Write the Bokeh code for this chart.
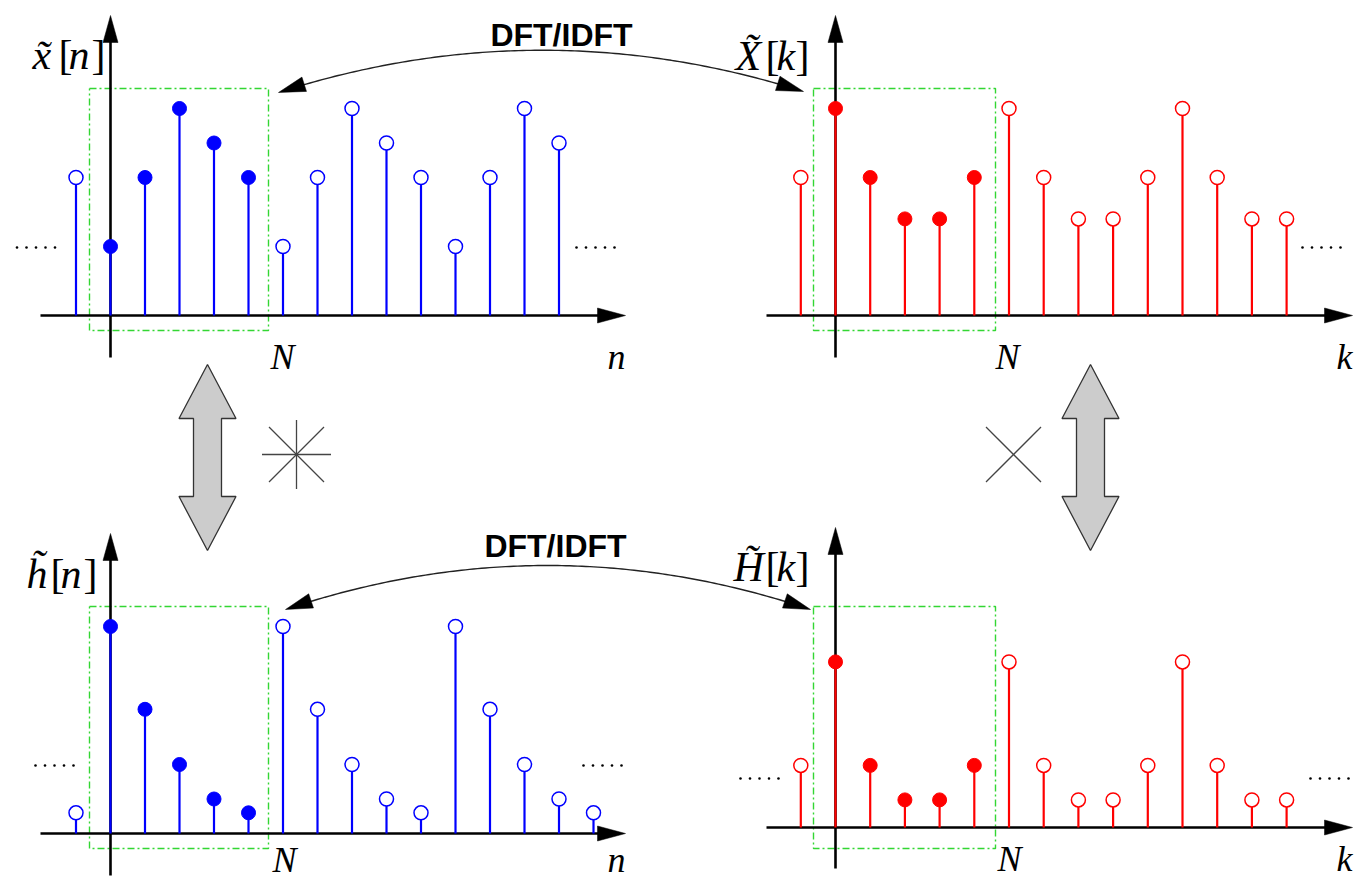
import numpy as np
from bokeh.plotting import figure
from bokeh.models import Range1d
from bokeh.embed import file_html
from bokeh.resources import INLINE
from bokeh.core.properties import value

# ---------------- data: one period (N = 5) of each periodic sequence ----------------
N = 5
x_period = [1.0, 2.0, 3.0, 2.5, 2.0]      # x~[n]
X_period = [3.0, 2.0, 1.4, 1.4, 2.0]      # X~[k]
h_period = [3.0, 1.8, 1.0, 0.5, 0.3]      # h~[n]
H_period = [2.4, 0.9, 0.4, 0.4, 0.9]      # H~[k]
idx_tl = list(range(-1, 14))
idx_tr = list(range(-1, 14))
idx_bl = list(range(-1, 15))
idx_br = list(range(-1, 14))
arrow_text = "DFT/IDFT"

# ---------------- layout (pixel-like data coordinates) ----------------
p = figure(width=1357, height=879, x_range=Range1d(0, 1357), y_range=Range1d(879, 0),
           output_backend="svg", toolbar_location=None, min_border=0,
           x_axis_type=None, y_axis_type=None)
p.grid.visible = False
p.outline_line_color = None
p.background_fill_color = "white"
p.border_fill_color = "white"

SERIF = value("Liberation Serif")
SANS = value("Liberation Sans")

panels = [
    dict(vals=x_period, idx=idx_tl, ox=110, base=315, dx=34.5, color="#0000ff",
         hx=(40, 625), vy=(357, 15), box=(89, 268, 88, 330),
         dots=[(16.5, 247), (576, 247)],
         lab=[("x\u0303", True, 0), ("[", False, 26), ("n", True, 36), ("]", False, 59)], lab_xy=(32, 54),
         N_xy=(270, 356), ax=("n", 607, 356)),
    dict(vals=X_period, idx=idx_tr, ox=835, base=315, dx=34.7, color="#ff0000",
         hx=(766, 1352), vy=(357, 15), box=(813, 995, 88, 330),
         dots=[(1302, 247)],
         lab=[("X\u0303", True, 0), ("[", False, 30), ("k", True, 41), ("]", False, 60)], lab_xy=(735, 55),
         N_xy=(995, 356), ax=("k", 1336, 356)),
    dict(vals=h_period, idx=idx_bl, ox=110, base=833, dx=34.5, color="#0000ff",
         hx=(40, 625), vy=(875, 533), box=(89, 268, 606, 848),
         dots=[(35, 765), (583, 765)],
         lab=[("h\u0303", True, 0), ("[", False, 24), ("n", True, 34), ("]", False, 57)], lab_xy=(26, 573),
         N_xy=(272, 859), ax=("n", 607, 859)),
    dict(vals=H_period, idx=idx_br, ox=835, base=827, dx=34.7, color="#ff0000",
         hx=(766, 1352), vy=(868, 527), box=(813, 995, 606, 848),
         dots=[(740, 778), (1310, 778)],
         lab=[("H\u0303", True, 0), ("[", False, 32), ("k", True, 43), ("]", False, 62)], lab_xy=(733, 566),
         N_xy=(997, 858), ax=("k", 1336, 858)),
]
UNIT = 69.0


def tri(tip, direction, length, half):
    tx, ty = tip
    ux, uy = direction
    L = np.hypot(ux, uy)
    ux, uy = ux / L, uy / L
    bx, by = tx - ux * length, ty - uy * length
    nx, ny = -uy, ux
    return [tx, bx + nx * half, bx - nx * half], [ty, by + ny * half, by - ny * half]


head_xs, head_ys = [], []

# green dash-dot boxes
for P in panels:
    l, r, t, b = P["box"]
    p.line([l, r, r, l, l], [t, t, b, b, t], line_color="#33d633",
           line_width=1.4, line_dash="7 3 2 3")

# axes
for P in panels:
    x0, x1 = P["hx"]
    p.segment(x0=[x0], y0=[P["base"]], x1=[x1 - 26], y1=[P["base"]], line_color="black", line_width=2.6)
    a, b = tri((x1, P["base"]), (1, 0), 28, 7.5)
    head_xs.append(a); head_ys.append(b)
    y0, y1 = P["vy"]
    p.segment(x0=[P["ox"]], y0=[y0], x1=[P["ox"]], y1=[y1 + 25], line_color="black", line_width=2.6)
    a, b = tri((P["ox"], y1), (0, -1), 27, 7.5)
    head_xs.append(a); head_ys.append(b)

# stems and markers
for P in panels:
    idx = P["idx"]
    xs = [P["ox"] + n * P["dx"] for n in idx]
    vals = [P["vals"][n % N] for n in idx]
    ys = [P["base"] - v * UNIT for v in vals]
    p.segment(x0=xs, y0=[P["base"]] * len(xs), x1=xs, y1=ys, line_color=P["color"], line_width=2.2)
    fx = [x for x, n in zip(xs, idx) if 0 <= n < N]
    fy = [y for y, n in zip(ys, idx) if 0 <= n < N]
    ox_ = [x for x, n in zip(xs, idx) if not (0 <= n < N)]
    oy_ = [y for y, n in zip(ys, idx) if not (0 <= n < N)]
    p.scatter(ox_, oy_, size=14, marker="circle", fill_color="white", line_color=P["color"], line_width=1.5)
    p.scatter(fx, fy, size=14, marker="circle", fill_color=P["color"], line_color=P["color"], line_width=1)

# continuation dots
for P in panels:
    for (sx, sy) in P["dots"]:
        p.scatter([sx + i * 9.5 for i in range(5)], [sy] * 5, size=2.6, marker="circle",
                  fill_color="black", line_color=None)

# labels
for P in panels:
    lx, ly = P["lab_xy"]
    for (t, it, off) in P["lab"]:
        p.text(x=[lx + off], y=[ly], text=[t], text_font=SERIF, text_font_size=value("42px"),
               text_font_style="italic" if it else "normal", text_baseline="alphabetic",
               text_align="left", text_color="black")
    nx, ny = P["N_xy"]
    p.text(x=[nx], y=[ny], text=["N"], text_font=SERIF, text_font_size=value("36px"),
           text_font_style="italic", text_baseline="alphabetic", text_align="left", text_color="black")
    t, ax_, ay_ = P["ax"]
    p.text(x=[ax_], y=[ay_], text=[t], text_font=SERIF, text_font_size=value("36px"),
           text_font_style="italic", text_baseline="alphabetic", text_align="left", text_color="black")

# curved DFT/IDFT double arrows (quadratic Bezier)
curves = [((278, 92), (540, 8), (803, 91)), ((285, 609), (547, 521), (810, 609))]
for (P0, C, P2) in curves:
    P0 = np.array(P0, float); C = np.array(C, float); P2 = np.array(P2, float)
    t = np.linspace(0.045, 0.955, 120)
    pts = ((1 - t) ** 2)[:, None] * P0 + (2 * (1 - t) * t)[:, None] * C + (t ** 2)[:, None] * P2
    p.line(pts[:, 0], pts[:, 1], line_color="#222222", line_width=1.4)
    a, b = tri(tuple(P0), tuple(P0 - C), 27, 7.5)
    head_xs.append(a); head_ys.append(b)
    a, b = tri(tuple(P2), tuple(P2 - C), 27, 7.5)
    head_xs.append(a); head_ys.append(b)

p.patches(head_xs, head_ys, fill_color="black", line_color="black", line_width=0.5)

p.text(x=[561, 555], y=[34, 545], text=[arrow_text, arrow_text], text_font=SANS,
       text_font_size=value("32px"), text_font_style="bold", text_align="center",
       text_baseline="alphabetic", text_color="black")

# gray double arrows
def dbl_arrow(cx, top, hb1, hb2, bot, hw, sw):
    xs = [cx, cx + hw, cx + sw, cx + sw, cx + hw, cx, cx - hw, cx - sw, cx - sw, cx - hw]
    ys = [top, hb1, hb1, hb2, hb2, bot, hb2, hb2, hb1, hb1]
    return xs, ys

gx, gy = [], []
for cx in (207, 1090):
    a, b = dbl_arrow(cx, 364, 418, 496, 550, 28.5, 14)
    gx.append(a); gy.append(b)
p.patches(gx, gy, fill_color="#cccccc", line_color="#333333", line_width=1.3)

# convolution (asterisk) and multiplication (cross) symbols
acx, acy = 296, 454
p.segment(x0=[acx - 34.5, acx, acx - 27.5, acx - 27.5], y0=[acy, acy - 34.5, acy - 27.5, acy + 27.5],
          x1=[acx + 34.5, acx, acx + 27.5, acx + 27.5], y1=[acy, acy + 34.5, acy + 27.5, acy - 27.5],
          line_color="#444444", line_width=1.3)
mcx, mcy = 1013, 454
p.segment(x0=[mcx - 27.5, mcx - 27.5], y0=[mcy - 27.5, mcy + 27.5],
          x1=[mcx + 27.5, mcx + 27.5], y1=[mcy + 27.5, mcy - 27.5],
          line_color="#444444", line_width=1.3)

open("out.html", "w").write(file_html(p, INLINE))
